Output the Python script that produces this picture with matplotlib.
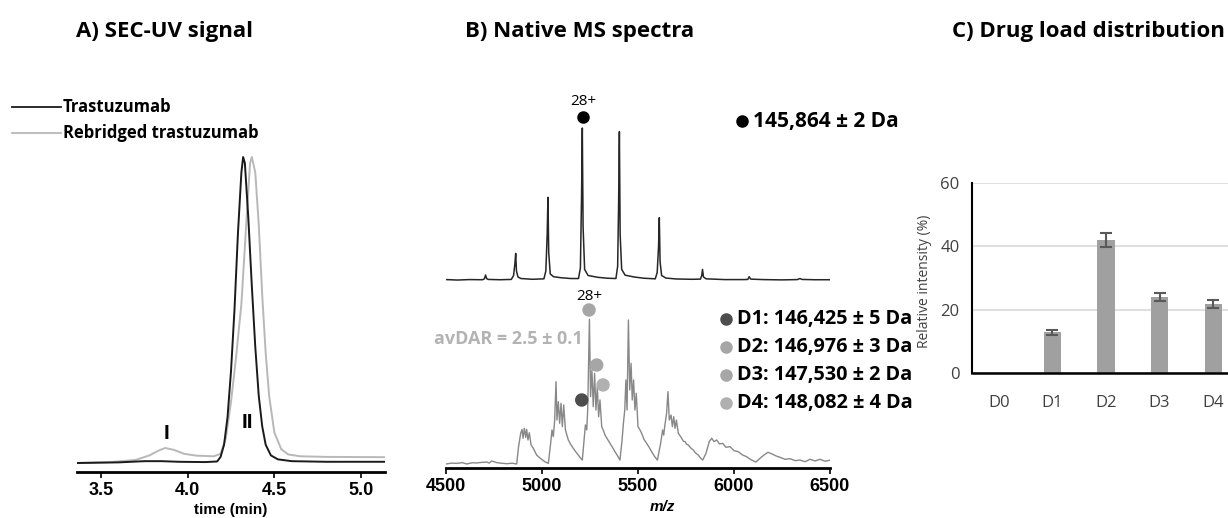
import numpy as np
import matplotlib.pyplot as plt

plt.rcParams['font.family'] = ['Open Sans', 'DejaVu Sans']

# A) SEC-UV traces, absorbance as % of the main peak
sec_time_trast = [3.36, 3.60, 3.75, 3.85, 3.95, 4.10, 4.17, 4.19, 4.21, 4.23, 4.25, 4.27, 4.29,
                  4.31, 4.32, 4.33, 4.35, 4.37, 4.39, 4.41, 4.43, 4.45, 4.48, 4.52, 4.60, 4.80, 5.14]
sec_abs_trast = [0, 0.2, 0.6, 0.6, 0.4, 0.3, 0.5, 2, 6, 15, 30, 50, 75,
                 95, 100, 98, 80, 58, 38, 22, 12, 6, 2.5, 1.2, 0.6, 0.4, 0.4]
sec_time_rebr = [3.36, 3.55, 3.70, 3.78, 3.83, 3.87, 3.92, 3.98, 4.05, 4.15, 4.19, 4.22, 4.25, 4.28,
                 4.31, 4.34, 4.36, 4.37, 4.39, 4.41, 4.43, 4.45, 4.47, 4.50, 4.54, 4.58, 4.65, 4.80, 5.14]
sec_abs_rebr = [0, 0.3, 1.0, 2.5, 4.0, 4.9, 4.3, 3.0, 2.4, 2.2, 3, 8, 20, 35,
                52, 80, 98, 100, 95, 78, 55, 36, 22, 10, 4.5, 2.8, 2.2, 2.0, 1.9]

# B) native MS, (m/z, relative intensity)
ms_trast = [(4500, 0.3), (4560, 0.0), (4620, 0.3), (4690, 0.2), (4700, 0.8), (4706, 3.3), (4712, 0.9),
            (4720, 0.4), (4780, 0.2), (4840, 0.4), (4852, 3), (4859, 11), (4863, 17.5), (4867, 6),
            (4875, 2), (4890, 1), (4950, 0.5), (5010, 0.8), (5020, 6), (5027, 30), (5031, 54.4),
            (5035, 18), (5043, 4), (5060, 2.2), (5100, 1.5), (5150, 1.0), (5190, 1.0), (5200, 8),
            (5206, 55), (5210, 100), (5214, 35), (5222, 7), (5240, 3), (5290, 1.8), (5340, 1.2),
            (5385, 1.0), (5394, 9), (5399, 50), (5403, 97.6), (5407, 30), (5415, 7), (5433, 3.2),
            (5480, 2.0), (5530, 1.2), (5590, 0.8), (5600, 5), (5607, 22), (5611, 41), (5615, 12),
            (5623, 3), (5645, 1.3), (5700, 0.7), (5780, 0.5), (5825, 0.6), (5832, 3), (5836, 7),
            (5841, 2), (5855, 0.8), (5950, 0.3), (6050, 0.3), (6072, 0.4), (6079, 2.2), (6087, 0.6),
            (6150, 0.3), (6250, 0.1), (6330, 0.3), (6343, 1.0), (6355, 0.4), (6420, 0.2), (6500, 0.2)]

ms_rebr = [(4500, 0), (4530, 0.6), (4556, 0.4), (4585, 0.9), (4608, 0), (4635, 0.8), (4660, 0.7),
           (4690, 1.1), (4712, 1.3), (4725, 0.6), (4738, 2.0), (4764, 0.9), (4790, 0.5), (4816, 0.2),
           (4845, 0.5), (4868, 0),
           (4878, 11.4), (4889, 20.2), (4896, 22.8), (4901, 16.9), (4908, 23.5), (4915, 17.5),
           (4920, 22.8), (4927, 15.8), (4934, 20.6), (4943, 12.5), (4955, 10.3), (4972, 5.9),
           (4985, 4.4), (4998, 3.1), (5015, 1.5), (5033, 0.4),
           (5045, 13.6), (5052, 22.4), (5059, 18), (5066, 28.9), (5073, 54.2), (5078, 28.9),
           (5085, 41), (5092, 26.8), (5099, 39.9), (5106, 24.6), (5113, 38.8), (5122, 22.4),
           (5137, 15.8), (5150, 12.8), (5163, 10.3), (5176, 8.0), (5189, 5.9), (5200, 4.0), (5210, 2.6),
           (5219, 15.8), (5226, 25.7), (5233, 22.4), (5238, 35.5), (5247, 95.2), (5253, 44.3),
           (5260, 61.8), (5267, 37.7), (5274, 59.6), (5281, 35.5), (5288, 50.9), (5295, 31.1),
           (5302, 42.1), (5311, 24.6), (5320, 22.0), (5328, 19.1), (5340, 16.5), (5354, 13.6),
           (5367, 11.0), (5380, 8.1), (5393, 5.5), (5406, 2.6),
           (5417, 15.8), (5424, 26.8), (5431, 35.5), (5437, 55.3), (5443, 35.5), (5450, 94.7),
           (5457, 48.7), (5464, 66.2), (5470, 42.1), (5477, 55.3), (5484, 35.5), (5491, 46.5),
           (5500, 24.6), (5510, 22.5), (5519, 20.2), (5532, 16.0), (5545, 13.6), (5558, 11.0),
           (5571, 8.1), (5586, 5.0), (5601, 2.6),
           (5618, 13.6), (5628, 22.4), (5634, 19.0), (5639, 24.6), (5649, 33.3), (5656, 47.6),
           (5663, 28.9), (5672, 32.2), (5679, 24.6), (5686, 31.1), (5693, 23.5), (5700, 28.9),
           (5710, 20.2), (5719, 18.5), (5728, 16.9), (5736, 15.0), (5745, 14.7), (5753, 13.0),
           (5762, 12.5), (5775, 10.5), (5788, 9.2), (5800, 7.2), (5814, 5.9), (5825, 4.0), (5837, 2.6),
           (5854, 7.0), (5871, 14.7), (5884, 16.9), (5896, 14.7), (5910, 15.8), (5924, 13.2),
           (5941, 13.6), (5958, 11.0), (5979, 11.4), (6000, 8.8), (6022, 8.1), (6045, 5.9),
           (6066, 4.8), (6080, 3.5), (6092, 2.6), (6114, 1.3), (6135, 3.7), (6156, 5.9), (6177, 7.7),
           (6198, 6.6), (6219, 5.3), (6240, 4.4), (6266, 3.1), (6292, 3.5), (6318, 2.2), (6344, 2.6),
           (6370, 1.5), (6396, 3.1), (6422, 2.0), (6448, 3.1), (6474, 1.8), (6503, 2.6)]

top_dot = (5213, 107.3)
dot_mz = [5207, 5245, 5285, 5318]
dot_int = [42.1, 101.3, 65.1, 52.0]
dot_colors = ['#4d4d4d', '#a6a6a6', '#a6a6a6', '#b0b0b0']
mass_trast = '145,864 ± 2 Da'
mass_labels = ['D1: 146,425 ± 5 Da', 'D2: 146,976 ± 3 Da',
               'D3: 147,530 ± 2 Da', 'D4: 148,082 ± 4 Da']

# C) drug load distribution
dar_labels = ['D0', 'D1', 'D2', 'D3', 'D4']
dar_values = [0, 12.8, 42.0, 24.0, 21.8]
dar_err = [0, 0.8, 2.1, 1.3, 1.2]

fig = plt.figure(figsize=(12.28, 5.18), dpi=100)
W, H = 1228.0, 518.0

def px_axes(l, t, r, b):
    return fig.add_axes([l / W, 1 - b / H, (r - l) / W, (b - t) / H])

tick_font = dict(family='Liberation Sans', weight='bold', size=13)

# ---------- A
axA = px_axes(77, 150, 385, 472)
axA.plot(sec_time_rebr, sec_abs_rebr, color='#b8b8b8', lw=1.4)
axA.plot(sec_time_trast, sec_abs_trast, color='#1a1a1a', lw=1.4)
axA.set_xlim(3.3615, 5.1385)
axA.set_ylim(-2.94, 102.3)
for s in ['left', 'right', 'top']:
    axA.spines[s].set_visible(False)
axA.spines['bottom'].set_linewidth(2)
axA.set_yticks([])
axA.set_xticks([3.5, 4.0, 4.5, 5.0])
axA.set_xticklabels(['3.5', '4.0', '4.5', '5.0'], fontdict=tick_font)
axA.tick_params(axis='x', direction='out', length=4, width=1.2, pad=3)
axA.set_xlabel('time (min)', family='Liberation Sans', weight='bold', fontsize=11)
axA.xaxis.set_label_coords(0.5, -0.095)
axA.text(3.875, 6.5, 'I', ha='center', va='bottom', family='Liberation Sans', weight='bold', fontsize=15)
axA.text(4.345, 10, 'II', ha='center', va='bottom', family='Liberation Sans', weight='bold', fontsize=15)

# ---------- B
offset = 121
axB = px_axes(446, 90, 830, 468)
t_mz, t_int = np.array(ms_trast).T
b_mz, b_int = np.array(ms_rebr).T
axB.plot(t_mz, t_int + offset, color='#262626', lw=1.1)
axB.plot(b_mz, b_int, color='#888888', lw=1.0)
axB.plot(top_dot[0], top_dot[1] + offset, 'o', color='black', ms=8)
axB.text(top_dot[0], top_dot[1] + offset + 5, '28+', ha='center', va='bottom', fontsize=11)
axB.scatter(dot_mz, dot_int, s=75, c=dot_colors, zorder=3)
axB.text(dot_mz[1], dot_int[1] + 4, '28+', ha='center', va='bottom', fontsize=11)
axB.text(4440, 82, 'avDAR = 2.5 ± 0.1', color='#b3b3b3', weight='bold', fontsize=13, va='center')
axB.set_xlim(4500, 6500)
axB.set_ylim(-2.63, 246)
for s in ['left', 'right', 'top']:
    axB.spines[s].set_visible(False)
axB.spines['bottom'].set_linewidth(2)
axB.set_yticks([])
axB.set_xticks([4500, 5000, 5500, 6000, 6500])
axB.set_xticklabels(['4500', '5000', '5500', '6000', '6500'], fontdict=tick_font)
axB.tick_params(axis='x', direction='out', length=4, width=1.2, pad=3)
axB.set_xlabel('m/z', family='Liberation Sans', weight='bold', style='italic', fontsize=11)
axB.xaxis.set_label_coords(0.5625, -0.085)

# ---------- C
axC = px_axes(972, 183, 1240, 373)
xc = np.arange(len(dar_labels))
axC.bar(xc, dar_values, width=0.32, color='#a0a0a0', zorder=2)
has = np.array(dar_values) > 0
axC.errorbar(xc[has], np.array(dar_values)[has], yerr=np.array(dar_err)[has], fmt='none',
             ecolor='#595959', elinewidth=1.5, capsize=4.5, capthick=1.5, zorder=3)
axC.set_xlim(-0.5, 4.5)
axC.set_ylim(0, 60)
axC.set_yticks([0, 20, 40, 60])
axC.grid(axis='y', color='#d9d9d9', lw=1.2, zorder=0)
axC.set_axisbelow(True)
axC.set_xticks(xc)
axC.set_xticklabels(dar_labels)
axC.tick_params(length=0, labelsize=12, labelcolor='#404040')
axC.tick_params(axis='x', pad=16)
axC.tick_params(axis='y', pad=9)
for s in ['right', 'top']:
    axC.spines[s].set_visible(False)
axC.spines['left'].set_linewidth(1.5)
axC.spines['bottom'].set_linewidth(1.8)
axC.set_ylabel('Relative intensity (%)', fontsize=10, color='#404040')
axC.yaxis.set_label_coords(-0.15, 0.484)

# ---------- titles, legends (pixel overlay)
ov = fig.add_axes([0, 0, 1, 1], zorder=5)
ov.set_xlim(0, W)
ov.set_ylim(H, 0)
ov.axis('off')
ov.patch.set_alpha(0)

ov.text(165, 31, 'A) SEC-UV signal', ha='center', va='center', weight='bold', fontsize=16)
ov.text(580, 31, 'B) Native MS spectra', ha='center', va='center', weight='bold', fontsize=16)
ov.text(1088, 31, 'C) Drug load distribution', ha='center', va='center', weight='bold', fontsize=16)

ov.plot([12, 61], [107, 107], color='#1a1a1a', lw=1.3)
ov.plot([12, 61], [133, 133], color='#b8b8b8', lw=1.3)
ov.text(63, 107, 'Trastuzumab', va='center', weight='bold', fontsize=12)
ov.text(63, 133, 'Rebridged trastuzumab', va='center', weight='bold', fontsize=12)

ov.plot(742, 121, 'o', color='black', ms=8)
ov.text(753, 121, mass_trast, va='center', weight='bold', fontsize=15)
for i, (lab, col) in enumerate(zip(mass_labels, dot_colors)):
    y = 319 + i * 28
    ov.plot(726, y, 'o', color=col, ms=8)
    ov.text(737, y, lab, va='center', weight='bold', fontsize=14.3)

fig.savefig('out.png', dpi=100)
